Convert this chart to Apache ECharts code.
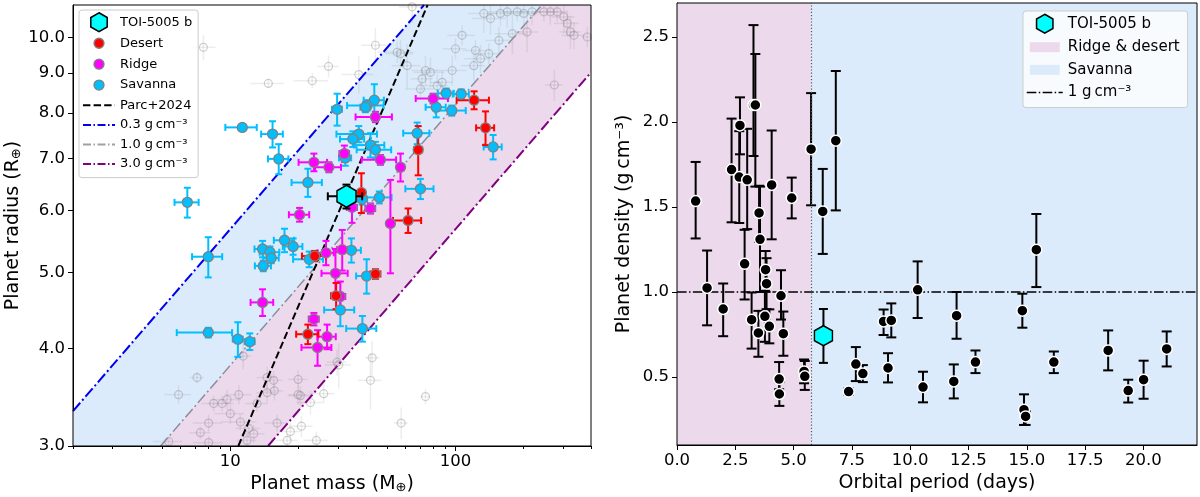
<!DOCTYPE html>
<html>
<head>
<meta charset="utf-8">
<script src="https://cdn.jsdelivr.net/npm/echarts@6/dist/echarts.min.js"></script>
<style>
html, body { margin: 0; padding: 0; background: #fff; }
#chart { width: 1200px; height: 497px; }
</style>
</head>
<body>
<div id="chart"></div>
<script>
// ---- left panel: [mass, radius, massErr, radiusErr] ----
var toiMR = [[32.8, 6.26, 5.7, 0.22]];
var desertPts = [
  [38.2, 6.33, 1.2, 0.37], [68.3, 7.18, 2.8, 0.52], [61.6, 5.83, 8.8, 0.21],
  [121, 8.31, 19.8, 0.22], [136, 7.66, 12.5, 0.38], [23.7, 5.25, 2.9, 0.08],
  [44.1, 4.98, 2.3, 0.07], [29.5, 4.67, 1.5, 0.18], [22.1, 4.17, 2.5, 0.12]
];
var ridgePts = [
  [44.1, 7.91, 8.1, 0.12], [32.1, 7.10, 1.6, 0.17], [46.4, 6.97, 8.1, 0.10],
  [23.5, 6.92, 3.4, 0.18], [27.4, 6.82, 3.6, 0.10], [57.0, 6.82, 2.0, 0.28],
  [41.9, 6.04, 2.1, 0.09], [34.7, 6.06, 1.8, 0.27], [20.3, 5.93, 2.1, 0.12],
  [51.4, 5.78, 1.5, 0.79], [26.6, 5.30, 2.2, 0.19], [31.4, 5.35, 1.6, 0.32],
  [29.3, 4.99, 3.9, 0.37], [30.8, 4.66, 1.6, 0.21], [13.9, 4.58, 1.6, 0.18],
  [23.5, 4.36, 1.2, 0.08], [26.9, 4.14, 2.5, 0.15], [24.4, 4.01, 3.7, 0.21],
  [79.6, 8.35, 13, 0.12]
];
var savannaPts = [
  [11.3, 7.67, 1.8, 0.07], [15.4, 7.52, 1.7, 0.29], [16.4, 6.99, 1.7, 0.31],
  [6.44, 6.15, 0.79, 0.27], [7.98, 5.24, 1.22, 0.31], [7.98, 4.19, 2.2, 0.06],
  [10.8, 4.11, 0.55, 0.21], [12.2, 4.08, 0.62, 0.10], [17.4, 5.50, 1.8, 0.19],
  [19.0, 5.40, 1.9, 0.13], [13.9, 5.36, 1.1, 0.13], [15.0, 5.31, 1.5, 0.09],
  [15.2, 5.22, 1.2, 0.08], [14.0, 5.10, 1.15, 0.08], [29.8, 8.09, 1.5, 0.38],
  [43.6, 8.31, 4.5, 0.40], [40.5, 8.18, 7.5, 0.12], [39.8, 8.14, 2.0, 0.12],
  [37.2, 7.52, 7.6, 0.18], [35.0, 7.41, 4.3, 0.17], [41.9, 7.28, 6.4, 0.26],
  [44.1, 7.18, 7.7, 0.17], [32.4, 7.01, 2.0, 0.16], [22.1, 6.52, 3.4, 0.27],
  [67.6, 7.54, 9.0, 0.24], [69.9, 6.40, 10, 0.19], [45.9, 6.24, 6.1, 0.11],
  [38.5, 6.21, 2.0, 0.10], [22.4, 5.20, 3.4, 0.12], [34.5, 5.34, 3.5, 0.19],
  [40.3, 4.95, 4.1, 0.25], [30.8, 4.48, 4.7, 0.21], [38.6, 4.24, 5.9, 0.16],
  [90.9, 8.48, 7.4, 0.12], [82.1, 8.14, 8.4, 0.24], [96.3, 8.06, 14.8, 0.12],
  [106, 8.46, 8.7, 0.12], [147, 7.24, 13.5, 0.26]
];
// faint background sample
var otherPts = [
  [7.59, 9.71, 1.0, 0.35], [14.75, 8.73, 2.5, 0.12], [64.2, 10.94, 8, 0.5],
  [133.6, 10.73, 20, 0.6], [143.1, 10.57, 25, 0.5], [158.5, 10.73, 20, 0.4],
  [169.8, 10.78, 30, 0.5], [188, 10.78, 25, 0.3], [201, 10.73, 30, 0.5],
  [219, 10.78, 25, 0.4], [247, 10.78, 30, 0.3], [264, 10.78, 35, 0.4],
  [283, 10.78, 30, 0.3], [303, 10.62, 35, 0.5], [314, 10.42, 40, 0.4],
  [324, 10.16, 35, 0.5], [336, 10.06, 40, 0.4], [385, 10.01, 20, 0.3],
  [179, 10.11, 30, 0.6], [208, 10.16, 25, 0.6], [156, 9.91, 20, 0.4],
  [107, 10.06, 15, 0.3], [44.1, 9.77, 6, 0.5], [57.0, 9.53, 8, 0.4],
  [27.3, 9.18, 3, 0.3], [23.1, 8.80, 4, 0.2], [37.2, 8.96, 6, 0.5],
  [55.1, 9.57, 10, 0.3], [61.0, 9.20, 9, 0.6], [73.6, 9.07, 10, 0.4],
  [71.1, 8.85, 8, 0.3], [77.4, 9.02, 12, 0.4], [82.9, 8.67, 10, 0.3],
  [96.7, 9.07, 15, 0.4], [100, 9.67, 12, 0.3], [122.7, 9.62, 15, 0.3],
  [129.2, 9.39, 20, 0.4], [140.6, 9.53, 18, 0.3], [120.6, 9.20, 15, 0.4],
  [69.9, 8.59, 10, 0.2], [87.3, 8.76, 10, 0.3], [275, 8.69, 25, 0.4],
  [11.4, 3.91, 1.0, 0.15], [7.11, 3.67, 0.5, 0.06], [5.89, 3.49, 0.8, 0.1],
  [9.67, 3.44, 1.5, 0.1], [9.19, 3.40, 1.2, 0.08], [8.43, 3.40, 1.0, 0.08],
  [10.0, 3.30, 1.5, 0.1], [10.9, 3.49, 1.5, 0.1], [8.01, 3.21, 1.2, 0.08],
  [7.36, 3.12, 0.8, 0.06], [8.01, 3.03, 1.2, 0.06], [5.32, 3.04, 0.8, 0.05],
  [12.7, 3.11, 1.5, 0.08], [12.06, 3.16, 1.5, 0.08], [11.08, 3.22, 2.0, 0.08],
  [14.56, 3.67, 1.5, 0.12], [15.57, 3.64, 1.5, 0.1], [14.56, 3.51, 1.5, 0.1],
  [15.69, 3.53, 1.5, 0.1], [13.14, 3.40, 1.5, 0.08], [16.13, 3.21, 2, 0.08],
  [18.48, 3.13, 2, 0.08], [20.0, 3.65, 2, 0.1], [20.0, 3.49, 2, 0.1],
  [17.87, 3.05, 2, 0.06], [11.86, 3.05, 1.2, 0.06], [20.47, 3.48, 2.5, 0.1],
  [22.68, 3.41, 3, 0.12], [25.98, 3.50, 3, 0.1], [30.3, 3.81, 4, 0.25],
  [41.9, 3.64, 5, 0.3], [42.65, 3.89, 3, 0.2], [73.6, 3.47, 4, 0.08],
  [57.4, 3.21, 4, 0.15], [20.68, 3.18, 2.5, 0.1], [24.11, 3.05, 3, 0.08],
  [29.8, 3.84, 3, 0.15]
];
// reference lines (end points)
var parcLine = [[10.85, 3], [75.2, 11]];
var rho03Line = [[2, 3.325], [72.5, 11]];
var rho10Line = [[4.9, 3], [241.6, 11]];
var rho30Line = [[14.7, 3], [400, 9.02]];

// ---- right panel: [period, density, errMinus, errPlus] ----
var toiPD = [[6.28, 0.743, 0.16, 0.157]];
var densPts = [
  [0.80, 1.535, 0.22, 0.23], [1.29, 1.024, 0.22, 0.22], [1.98, 0.90, 0.16, 0.15],
  [2.34, 1.72, 0.31, 0.30], [2.70, 1.98, 0.17, 0.165], [2.67, 1.676, 0.27, 0.27],
  [3.01, 1.66, 0.29, 0.30], [3.28, 2.10, 0.30, 0.47], [3.36, 2.10, 0.48, 0.30],
  [3.52, 1.465, 0.17, 0.16], [3.56, 1.31, 0.31, 0.31], [4.06, 1.63, 0.32, 0.32],
  [4.92, 1.553, 0.12, 0.12], [5.75, 1.84, 0.33, 0.33], [6.25, 1.474, 0.25, 0.25],
  [6.81, 1.89, 0.41, 0.41], [2.90, 1.166, 0.21, 0.20], [3.80, 1.131, 0.13, 0.11],
  [3.84, 1.049, 0.15, 0.15], [4.46, 0.978, 0.14, 0.15], [3.20, 0.837, 0.17, 0.16],
  [3.77, 0.857, 0.15, 0.15], [3.49, 0.759, 0.14, 0.13], [3.96, 0.798, 0.10, 0.10],
  [4.56, 0.755, 0.13, 0.13], [4.38, 0.488, 0.06, 0.10], [4.39, 0.40, 0.07, 0.07],
  [5.45, 0.533, 0.07, 0.07], [5.48, 0.504, 0.08, 0.09], [7.67, 0.576, 0.10, 0.10],
  [7.97, 0.52, 0.05, 0.05], [7.36, 0.414, 0.02, 0.02], [8.86, 0.827, 0.08, 0.07],
  [9.19, 0.833, 0.10, 0.10], [9.05, 0.553, 0.085, 0.087], [10.32, 1.013, 0.166, 0.167],
  [10.55, 0.441, 0.09, 0.09], [11.99, 0.861, 0.136, 0.139], [11.87, 0.474, 0.10, 0.10],
  [12.80, 0.588, 0.065, 0.068], [14.81, 0.89, 0.10, 0.10], [14.88, 0.308, 0.09, 0.09],
  [14.95, 0.268, 0.05, 0.03], [15.41, 1.249, 0.22, 0.21], [16.16, 0.588, 0.065, 0.062],
  [18.49, 0.656, 0.117, 0.118], [19.35, 0.42, 0.07, 0.064], [20.01, 0.484, 0.112, 0.112],
  [21.0, 0.665, 0.103, 0.103]
];
var boundaryP = 5.74;

// axes
var massRange = [2, 400], radiusRange = [3, 11];
var periodRange = [0, 22.3], densRange = [0.1, 2.7];
var massTicks = [10, 100];
var massMinor = [2, 3, 4, 5, 6, 7, 8, 9, 20, 30, 40, 50, 60, 70, 80, 90, 200, 300, 400];
var radiusTicks = [3, 4, 5, 6, 7, 8, 9, 10];
var periodTicks = [0, 2.5, 5, 7.5, 10, 12.5, 15, 17.5, 20];
var densTicks = [0.5, 1, 1.5, 2, 2.5];

var FONT = 'DejaVu Sans';
var PINK = '#ecd9ec', BLUE = '#dcebfb';
var HEX = 'path://M0,-1L0.866,-0.5L0.866,0.5L0,1L-0.866,0.5L-0.866,-0.5Z';

var chart = echarts.init(document.getElementById('chart'));

function symRows(pts) {
  return pts.map(function (p) { return [p[0], p[1], p[0] - p[2], p[0] + p[2], p[1] - p[3], p[1] + p[3]]; });
}
function densRows(pts) {
  return pts.map(function (p) { return [p[0], p[1], p[0], p[0], p[1] - p[2], p[1] + p[3]]; });
}

// error bars drawn through the axes' own coord()
function errSeries(xi, yi, rows, color, lw, cap, z) {
  return {
    type: 'custom', xAxisIndex: xi, yAxisIndex: yi, data: rows,
    encode: { x: 0, y: 1 }, clip: true, z: z, silent: true,
    renderItem: function (params, api) {
      var x = api.value(0), y = api.value(1);
      var kids = [];
      function seg(a, b) {
        kids.push({ type: 'line', shape: { x1: a[0], y1: a[1], x2: b[0], y2: b[1] },
          style: { stroke: color, lineWidth: lw } });
      }
      if (api.value(3) > api.value(2)) {
        var l = api.coord([api.value(2), y]), r = api.coord([api.value(3), y]);
        seg(l, r);
        if (cap) { seg([l[0], l[1] - cap], [l[0], l[1] + cap]); seg([r[0], r[1] - cap], [r[0], r[1] + cap]); }
      }
      if (api.value(5) > api.value(4)) {
        var b = api.coord([x, api.value(4)]), t = api.coord([x, api.value(5)]);
        seg(b, t);
        if (cap) { seg([b[0] - cap, b[1]], [b[0] + cap, b[1]]); seg([t[0] - cap, t[1]], [t[0] + cap, t[1]]); }
      }
      return { type: 'group', children: kids };
    }
  };
}

function dotSeries(name, xi, yi, pts, symbol, size, style, z) {
  return {
    name: name, type: 'scatter', xAxisIndex: xi, yAxisIndex: yi,
    data: pts.map(function (p) { return [p[0], p[1]]; }),
    symbol: symbol, symbolSize: size, itemStyle: style, z: z, clip: true, silent: true
  };
}

function regionSeries(poly, color) {
  return {
    type: 'custom', xAxisIndex: 0, yAxisIndex: 0, data: [poly[0]], z: 1, silent: true,
    encode: { x: 0, y: 1 },
    renderItem: function (params, api) {
      return { type: 'polygon', shape: { points: poly.map(function (v) { return api.coord(v); }) },
        style: { fill: color } };
    }
  };
}

function lineSeries(name, xi, yi, pts, color, width, dash, z) {
  return {
    name: name, type: 'line', xAxisIndex: xi, yAxisIndex: yi, data: pts,
    symbol: 'none', silent: true, z: z,
    lineStyle: { color: color, width: width, type: dash }
  };
}

var blueBand = [[massRange[0], radiusRange[0]], rho03Line[0], rho03Line[1], rho10Line[1], rho10Line[0]];
var pinkBand = [rho10Line[0], rho10Line[1], [massRange[1], radiusRange[1]], rho30Line[1], rho30Line[0]];

var edge = { borderColor: '#808080', borderWidth: 1.3, opacity: 1 };
function ext(o, c) { var r = {}; for (var k in o) r[k] = o[k]; r.color = c; return r; }

var DASHDOT = [11, 3, 2, 3];
var rho = '\u2009cm\u207b\u00b3';
var lab03 = '0.3 g' + rho, lab10 = '1.0 g' + rho, lab30 = '3.0 g' + rho, lab1 = '1 g' + rho;

var nameText = { color: '#000', fontFamily: FONT, fontSize: 19,
  rich: { s: { fontFamily: FONT, fontSize: 13, color: '#000', verticalAlign: 'bottom', lineHeight: 13 } } };
var line1 = { show: true, lineStyle: { color: '#000', width: 1 } };

var hexIconL = 'path://M0,0M32,19M16,0L24.2,4.75L24.2,14.25L16,19L7.8,14.25L7.8,4.75Z';
var dotIconL = 'path://M0,0M32,19M11,9.5A5,5,0,1,1,21,9.5A5,5,0,1,1,11,9.5Z';
var hexIconR = 'path://M0,0M36,20M18,0.5L26.2,5.25L26.2,14.75L18,19.5L9.8,14.75L9.8,5.25Z';
var rectIconR = 'path://M0,0M36,20M3,5L33,5L33,15L3,15Z';

var option = {
  animation: false,
  backgroundColor: '#fff',
  grid: [
    { left: 73, top: 5, width: 518, height: 441, show: true, borderColor: '#000', borderWidth: 1,
      backgroundColor: 'transparent', z: 10, outerBoundsMode: 'none' },
    { left: 677, top: 3, width: 520, height: 442, show: true, borderColor: '#000', borderWidth: 1,
      backgroundColor: 'transparent', z: 10, outerBoundsMode: 'none' }
  ],
  xAxis: [
    { type: 'log', gridIndex: 0, min: massRange[0], max: massRange[1], position: 'bottom',
      axisLine: line1, splitLine: { show: false },
      axisTick: { customValues: massTicks, length: 5, lineStyle: { color: '#000' } },
      axisLabel: { customValues: massTicks, margin: 7, formatter: function (v) { return String(Math.round(v)); }, color: '#000', fontFamily: FONT, fontSize: 16.5 },
      name: 'Planet mass (M{s|\u2295})', nameLocation: 'middle', nameGap: 26, nameTextStyle: nameText },
    { type: 'log', gridIndex: 0, min: massRange[0], max: massRange[1], position: 'bottom',
      axisLine: { show: false }, splitLine: { show: false }, axisLabel: { show: false },
      axisTick: { customValues: massMinor, length: 3, lineStyle: { color: '#000' } } },
    { type: 'value', gridIndex: 1, min: periodRange[0], max: periodRange[1], position: 'bottom',
      axisLine: line1, splitLine: { show: false },
      axisTick: { customValues: periodTicks, length: 5, lineStyle: { color: '#000' } },
      axisLabel: { customValues: periodTicks, margin: 7, formatter: function (v) { return v.toFixed(1); }, color: '#000', fontFamily: FONT, fontSize: 16.5 },
      name: 'Orbital period (days)', nameLocation: 'middle', nameGap: 26, nameTextStyle: nameText }
  ],
  yAxis: [
    { type: 'log', gridIndex: 0, min: radiusRange[0], max: radiusRange[1],
      axisLine: line1, splitLine: { show: false },
      axisTick: { customValues: radiusTicks, length: 5, lineStyle: { color: '#000' } },
      axisLabel: { customValues: radiusTicks, margin: 8, formatter: function (v) { return v.toFixed(1); }, color: '#000', fontFamily: FONT, fontSize: 16.5 },
      name: 'Planet radius (R{s|\u2295})', nameLocation: 'middle', nameGap: 50, nameTextStyle: nameText },
    { type: 'value', gridIndex: 1, min: densRange[0], max: densRange[1],
      axisLine: line1, splitLine: { show: false },
      axisTick: { customValues: densTicks, length: 5, lineStyle: { color: '#000' } },
      axisLabel: { customValues: densTicks, margin: 8, formatter: function (v) { return v.toFixed(1); }, color: '#000', fontFamily: FONT, fontSize: 16.5 },
      name: 'Planet density (g\u2009cm\u207b\u00b3)', nameLocation: 'middle', nameGap: 43, nameTextStyle: nameText }
  ],
  legend: [
    { left: 79, top: 10, orient: 'vertical', itemWidth: 32, itemHeight: 19, itemGap: 0.6,
      padding: [2, 6, 4, 3], backgroundColor: 'rgba(255,255,255,0.8)', borderColor: '#cccccc',
      borderWidth: 1, borderRadius: 3, selectedMode: false, z: 20,
      textStyle: { fontFamily: FONT, fontSize: 13, color: '#000', lineHeight: 19 },
      data: [
        { name: 'TOI-5005 b', icon: hexIconL, itemStyle: { color: '#00ffff', borderColor: '#000', borderWidth: 1.5 } },
        { name: 'Desert', icon: dotIconL, itemStyle: { color: '#ff0000', borderColor: '#808080', borderWidth: 1.3 } },
        { name: 'Ridge', icon: dotIconL, itemStyle: { color: '#ff00ff', borderColor: '#808080', borderWidth: 1.3 } },
        { name: 'Savanna', icon: dotIconL, itemStyle: { color: '#00bfff', borderColor: '#808080', borderWidth: 1.3 } },
        { name: 'Parc+2024', itemStyle: { opacity: 0 }, lineStyle: { color: '#000', width: 2, type: [7.4, 3.2] } },
        { name: lab03, itemStyle: { opacity: 0 }, lineStyle: { color: '#0000ee', width: 2, type: [8, 2.5, 1.5, 2.5] } },
        { name: lab10, itemStyle: { opacity: 0 }, lineStyle: { color: '#a0a0a0', width: 2, type: [8, 2.5, 1.5, 2.5] } },
        { name: lab30, itemStyle: { opacity: 0 }, lineStyle: { color: '#800080', width: 2, type: [8, 2.5, 1.5, 2.5] } }
      ] },
    { left: 1023, top: 11, orient: 'vertical', itemWidth: 36, itemHeight: 20, itemGap: 2.7,
      padding: [2, 8, 5, 3], backgroundColor: 'rgba(255,255,255,0.8)', borderColor: '#cccccc',
      borderWidth: 1, borderRadius: 3, selectedMode: false, z: 20,
      textStyle: { fontFamily: FONT, fontSize: 15, color: '#000', lineHeight: 20 },
      formatter: function (n) { return n === 'Savanna zone' ? 'Savanna' : n; },
      data: [
        { name: 'TOI-5005 b', icon: hexIconR, itemStyle: { color: '#00ffff', borderColor: '#000', borderWidth: 1.5 } },
        { name: 'Ridge & desert', icon: rectIconR, itemStyle: { color: PINK, borderWidth: 0 } },
        { name: 'Savanna zone', icon: rectIconR, itemStyle: { color: BLUE, borderWidth: 0 } },
        { name: lab1, itemStyle: { opacity: 0 }, lineStyle: { color: '#000', width: 1.5, type: [9.6, 2.4, 1.5, 2.4] } }
      ] }
  ],
  series: [
    // left panel
    regionSeries(blueBand, BLUE),
    regionSeries(pinkBand, PINK),
    errSeries(0, 0, symRows(otherPts), 'rgba(110,110,110,0.12)', 1.5, 0, 2),
    dotSeries('others', 0, 0, otherPts, 'circle', 8, { color: 'rgba(0,0,0,0)', borderColor: 'rgba(110,110,110,0.3)', borderWidth: 1.2, opacity: 1 }, 2),
    lineSeries(lab03, 0, 0, rho03Line, '#0000ee', 2, DASHDOT, 3),
    lineSeries(lab10, 0, 0, rho10Line, '#8c8c9c', 1.5, DASHDOT, 3),
    lineSeries(lab30, 0, 0, rho30Line, '#800080', 2, DASHDOT, 3),
    lineSeries('Parc+2024', 0, 0, parcLine, '#000', 2, [7.4, 3.2], 3),
    errSeries(0, 0, symRows(savannaPts), '#00bfff', 2, 3.5, 4),
    dotSeries('Savanna', 0, 0, savannaPts, 'circle', 10, ext(edge, '#00bfff'), 5),
    errSeries(0, 0, symRows(ridgePts), '#ff00ff', 2, 3.5, 4),
    dotSeries('Ridge', 0, 0, ridgePts, 'circle', 10, ext(edge, '#ff00ff'), 5),
    errSeries(0, 0, symRows(desertPts), '#ff0000', 2, 3.5, 4),
    dotSeries('Desert', 0, 0, desertPts, 'circle', 10, ext(edge, '#ff0000'), 5),
    errSeries(0, 0, symRows(toiMR), '#000', 2, 4, 6),
    dotSeries('TOI-5005 b', 0, 0, toiMR, HEX, [19, 22], { color: '#00ffff', borderColor: '#000', borderWidth: 1.5, opacity: 1 }, 7),
    // right panel
    { name: 'Ridge & desert', type: 'line', xAxisIndex: 2, yAxisIndex: 1, data: [], z: 1, silent: true,
      markArea: { silent: true, itemStyle: { color: PINK, opacity: 1, borderWidth: 0 },
        data: [[{ xAxis: periodRange[0] }, { xAxis: boundaryP }]] } },
    { name: 'Savanna zone', type: 'line', xAxisIndex: 2, yAxisIndex: 1, data: [], z: 1, silent: true,
      markArea: { silent: true, itemStyle: { color: BLUE, opacity: 1, borderWidth: 0 },
        data: [[{ xAxis: boundaryP }, { xAxis: periodRange[1] }]] } },
    { name: lab1, type: 'line', xAxisIndex: 2, yAxisIndex: 1,
      data: [[periodRange[0], 1], [periodRange[1], 1]], symbol: 'none', silent: true, z: 3,
      lineStyle: { color: '#000', width: 1.5, type: [9.6, 2.4, 1.5, 2.4] },
      markLine: { silent: true, symbol: 'none', label: { show: false },
        lineStyle: { color: '#555', width: 1.2, type: [1.2, 2] },
        data: [{ xAxis: boundaryP }] } },
    errSeries(2, 1, densRows(densPts), '#000', 2, 5, 4),
    dotSeries('planets', 2, 1, densPts, 'circle', 11, { color: '#000', borderColor: '#fff', borderWidth: 1.5, opacity: 1 }, 5),
    errSeries(2, 1, densRows(toiPD), '#000', 2, 4.5, 6),
    dotSeries('TOI-5005 b', 2, 1, toiPD, HEX, [18, 20], { color: '#00ffff', borderColor: '#000', borderWidth: 1.5, opacity: 1 }, 7)
  ]
};
chart.setOption(option);
</script>
</body>
</html>
